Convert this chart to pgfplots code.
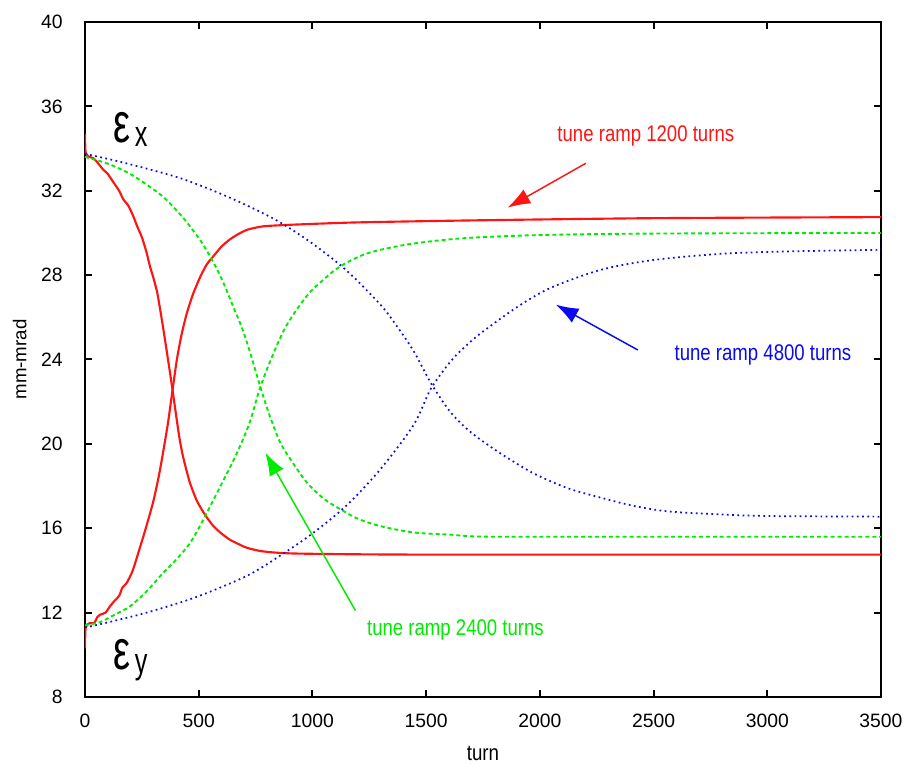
\documentclass[border=0pt]{standalone}
\usepackage{fontspec}
\setmainfont{Liberation Sans}
\usepackage{pgfplots}
\pgfplotsset{compat=1.18}
\usetikzlibrary{arrows.meta}

\definecolor{ramptwelve}{RGB}{255,20,20}
\definecolor{ramptwentyfour}{RGB}{0,235,0}
\definecolor{rampfortyeight}{RGB}{10,10,240}

\begin{document}
\begin{tikzpicture}
\begin{axis}[
  scale only axis,
  width=597pt, height=506.25pt,
  xmin=0, xmax=3500, ymin=8, ymax=40,
  xtick={0,500,...,3500}, ytick={8,12,...,40},
  axis line style={line width=1.8pt},
  major tick style={line width=1.5pt, black},
  major tick length=5pt,
  tick align=inside,
  /pgf/number format/assume math mode=true,
  /pgf/number format/1000 sep={},
  ticklabel style={font=\fontsize{14.5}{16}\selectfont, inner sep=0pt},
  xticklabel style={anchor=base, yshift=-22.5pt},
  yticklabel style={anchor=east, xshift=-16.5pt},
  xlabel={\scalebox{0.85}[1]{\fontsize{16.5}{18}\selectfont turn}},
  ylabel={\fontsize{14}{16}\selectfont mm-mrad},
  xlabel style={at={(rel axis cs:0.5,0)}, anchor=center, yshift=-42pt},
  ylabel style={at={(rel axis cs:0,0.5)}, anchor=center, yshift=49pt},
  clip=true,
]
% tune ramp over 1200 turns
\addplot[ramptwelve, line width=1.6pt, smooth, tension=0.4] coordinates {
  (0,34.7) (3,33.8) (20,33.6) (35,33.55) (50,33.4) (65,33.2) (80,33.0)
  (100,32.8) (125,32.4) (150,32.0) (168,31.6) (190,31.3) (212,30.8)
  (230,30.3) (250,29.8) (270,29.1) (286,28.4) (300,27.9) (317,27.2)
  (330,26.4) (345,25.4) (365,24.0) (383,22.7) (400,21.4) (415,20.3)
  (431,19.4) (460,18.2) (492,17.3) (530,16.6) (565,16.1) (600,15.75)
  (638,15.45) (675,15.25) (713,15.07) (785,14.9) (933,14.8) (1500,14.75)
  (3500,14.75)};
\addplot[ramptwelve, line width=1.6pt, smooth, tension=0.4] coordinates {
  (0,10.3) (3,11.3) (20,11.5) (40,11.5) (55,11.8) (66,11.9) (90,12.0)
  (110,12.3) (125,12.5) (150,12.8) (165,13.2) (183,13.4) (210,14.0)
  (242,15.1) (270,16.1) (301,17.3) (325,18.5) (345,19.7) (365,21.0)
  (383,22.4) (404,24.0) (425,25.2) (448,26.2) (475,27.1) (506,27.9)
  (535,28.5) (565,28.9) (600,29.35) (638,29.7) (675,29.95) (713,30.15)
  (760,30.27) (800,30.33) (933,30.4) (1200,30.5) (1739,30.6) (2500,30.7)
  (3500,30.75)};
% tune ramp over 2400 turns
\addplot[ramptwentyfour, line width=1.4pt, dash pattern=on 3pt off 2.2pt, smooth] coordinates {
  (0,33.6) (52,33.45) (120,33.2) (198,32.8) (270,32.3) (345,31.7)
  (400,31.1) (448,30.5) (510,29.6) (565,28.6) (610,27.6) (652,26.5)
  (690,25.5) (727,24.3) (771,22.7) (810,21.4) (859,20.05) (920,19.0)
  (977,18.15) (1050,17.4) (1123,16.9) (1200,16.45) (1299,16.1)
  (1445,15.8) (1600,15.7) (1780,15.6) (2500,15.6) (3500,15.6)};
\addplot[ramptwentyfour, line width=1.4pt, dash pattern=on 3pt off 2.2pt, smooth] coordinates {
  (0,11.4) (66,11.55) (130,11.9) (198,12.3) (270,13.0) (345,13.9)
  (400,14.5) (462,15.3) (510,16.2) (565,17.35) (610,18.3) (652,19.2)
  (690,20.1) (727,21.1) (771,22.7) (829,24.3) (880,25.5) (933,26.4)
  (990,27.2) (1050,27.8) (1100,28.25) (1152,28.6) (1220,28.95)
  (1299,29.2) (1445,29.5) (1666,29.75) (2000,29.9) (2500,29.97)
  (3500,30.0)};
% tune ramp over 4800 turns
\addplot[rampfortyeight, line width=1.3pt, dash pattern=on 1.3pt off 2.6pt, smooth] coordinates {
  (0,33.75) (125,33.45) (271,33.05) (418,32.6) (565,32.0) (713,31.3)
  (858,30.5) (1006,29.45) (1152,28.2) (1299,26.6) (1370,25.6)
  (1445,24.4) (1520,22.9) (1600,21.6) (1670,20.8) (1739,20.2)
  (1841,19.45) (1973,18.6) (2122,17.9) (2268,17.45) (2413,17.06)
  (2563,16.8) (2783,16.66) (3003,16.58) (3500,16.55)};
\addplot[rampfortyeight, line width=1.3pt, dash pattern=on 1.3pt off 2.6pt, smooth] coordinates {
  (0,11.3) (66,11.45) (271,12.0) (492,12.75) (713,13.75) (858,14.7)
  (1006,15.8) (1152,17.1) (1299,18.8) (1445,20.9) (1520,22.6)
  (1607,23.9) (1680,24.7) (1753,25.35) (1902,26.5) (2048,27.4)
  (2268,28.25) (2488,28.7) (2783,29.0) (3073,29.12) (3500,29.2)};

% emittance labels
\node[anchor=base west, inner sep=0pt] at (axis cs:125,34.3)
  {\scalebox{0.68}[1]{\fontsize{42}{42}\selectfont ε}\raisebox{-0.6ex}{\scalebox{0.7}[1]{\fontsize{27}{27}\selectfont\,x}}};
\node[anchor=base west, inner sep=0pt] at (axis cs:125,9.3)
  {\scalebox{0.68}[1]{\fontsize{42}{42}\selectfont ε}\raisebox{-0.6ex}{\scalebox{0.7}[1]{\fontsize{27}{27}\selectfont\,y}}};

% ramp annotations
\node[ramptwelve, anchor=center] at (axis cs:2466,34.6)
  {\scalebox{0.82}[1]{\fontsize{17}{19}\selectfont tune ramp 1200 turns}};
\draw[ramptwelve, line width=1.1pt, -{Latex[length=17pt,width=12pt]}]
  (axis cs:2202,33.3) -- (axis cs:1858,31.2);
\node[rampfortyeight, anchor=center] at (axis cs:2981,24.2)
  {\scalebox{0.82}[1]{\fontsize{17}{19}\selectfont tune ramp 4800 turns}};
\draw[rampfortyeight, line width=1.1pt, -{Latex[length=17pt,width=12pt]}]
  (axis cs:2431,24.45) -- (axis cs:2070,26.6);
\node[ramptwentyfour, anchor=center] at (axis cs:1629,11.2)
  {\scalebox{0.82}[1]{\fontsize{17}{19}\selectfont tune ramp 2400 turns}};
\draw[ramptwentyfour, line width=1.1pt, -{Latex[length=17pt,width=12pt]}]
  (axis cs:1189,12.1) -- (axis cs:793,19.57);
\end{axis}
\pgfresetboundingbox
\path[use as bounding box]
  ([xshift=-63.75pt,yshift=-55.5pt]current axis.south west)
  rectangle ([xshift=24.75pt,yshift=16.5pt]current axis.north east);
\end{tikzpicture}
\end{document}
